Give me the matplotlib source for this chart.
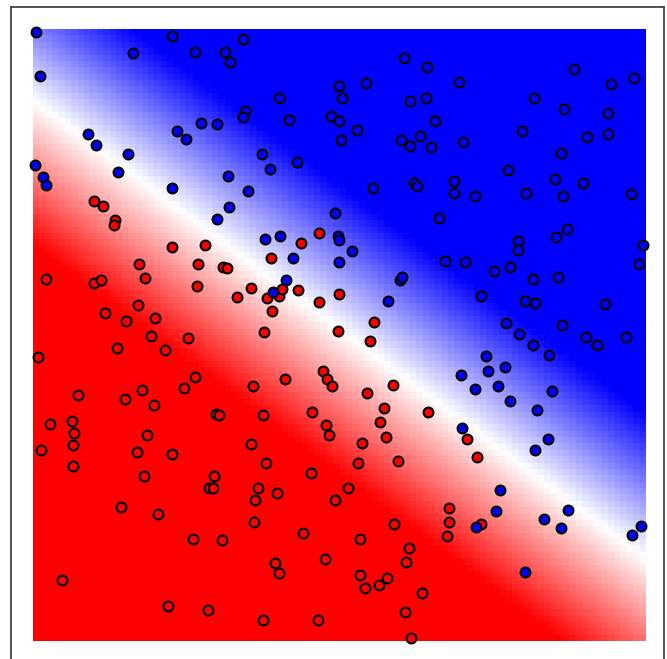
import numpy as np
import matplotlib
matplotlib.use("Agg")
import matplotlib.pyplot as plt

# ---- data (feature units) ----
blue_x = [3, 7, 55, 63, 95, 2, 10, 13, 85, 139, 144, 153, 168, 184, 195, 215, 196, 184, 232, 247,
          260, 253, 240, 229, 237, 264, 139, 100, 162, 192, 197, 210, 246, 212, 210, 256, 298,
          371, 394, 333, 306, 309, 426, 377, 393, 402, 306, 324, 308, 368, 377, 387, 398, 430,
          340, 381, 384, 421, 421, 442, 406, 541, 578, 601, 501, 531, 575, 489, 554, 575, 528,
          475, 522, 550, 493, 530, 598, 610, 606, 534, 523, 485, 485, 412, 432, 461, 477, 500,
          525, 572, 492, 502, 448, 473, 529, 302, 305, 306, 306, 319, 367, 369, 355, 486, 553,
          564, 593, 500, 516, 453, 472, 455, 428, 442, 465, 519, 477, 504, 515, 502, 429, 467,
          463, 443, 511, 535, 528, 599, 608, 492]
blue_y = [609, 565, 507, 496, 487, 476, 464, 456, 469, 453, 510, 502, 518, 517, 465, 450, 434, 422,
          402, 405, 383, 361, 349, 487, 472, 479, 605, 588, 589, 589, 579, 602, 543, 530, 524,
          521, 525, 583, 574, 558, 555, 543, 559, 540, 543, 520, 520, 511, 501, 501, 495, 505,
          494, 499, 453, 458, 455, 460, 448, 445, 423, 572, 557, 563, 543, 532, 528, 510, 504,
          507, 488, 471, 462, 458, 448, 445, 447, 396, 377, 412, 404, 400, 391, 380, 379, 370,
          374, 362, 364, 337, 340, 338, 345, 318, 316, 428, 405, 401, 379, 390, 361, 364, 340,
          307, 304, 296, 304, 296, 286, 285, 274, 270, 266, 252, 255, 250, 240, 231, 202, 191,
          213, 151, 130, 114, 122, 131, 113, 106, 115, 69]

red_x = [61, 70, 82, 81, 13, 61, 68, 106, 112, 105, 72, 93, 122, 139, 172, 165, 190, 194, 164, 204,
         218, 234, 246, 249, 238, 265, 268, 286, 286, 239, 231, 306, 341, 5, 84, 118, 155, 132,
         45, 92, 109, 121, 151, 162, 220, 252, 290, 294, 299, 17, 39, 41, 40, 8, 40, 114, 104,
         139, 111, 183, 186, 230, 279, 293, 296, 218, 233, 278, 181, 176, 180, 225, 222, 244,
         302, 88, 125, 221, 270, 160, 189, 292, 242, 246, 29, 135, 175, 230, 285, 305, 337,
         360, 334, 351, 395, 347, 353, 329, 325, 365, 434, 444, 315, 416, 416, 414, 448, 361,
         327, 376, 373, 327, 354, 346, 332, 389, 372, 378]
red_y = [440, 435, 421, 416, 362, 358, 361, 377, 363, 336, 328, 320, 323, 394, 396, 377, 374, 373,
         355, 344, 353, 343, 345, 352, 383, 351, 398, 408, 339, 330, 309, 347, 319, 284, 293,
         305, 303, 291, 246, 242, 251, 236, 253, 264, 255, 262, 270, 262, 255, 217, 220, 208,
         196, 191, 175, 206, 189, 187, 165, 227, 226, 226, 229, 216, 206, 197, 178, 168, 165,
         153, 153, 153, 141, 148, 141, 134, 127, 119, 108, 102, 101, 82, 78, 68, 61, 35, 31,
         21, 21, 310, 300, 256, 248, 233, 229, 219, 204, 198, 178, 180, 202, 184, 153, 133,
         119, 105, 117, 117, 102, 93, 79, 66, 63, 56, 53, 48, 29, 3]

# decision surface parameters (boundary line y = b0 + b1*x, ramp half-width)
x_range = (0, 613)
y_range = (0, 612)
b0, b1 = 541.0, -0.748
ramp = 145.0
n_cells = 96

# ---- figure ----
W, H = 667, 659
fig = plt.figure(figsize=(W / 100, H / 100), dpi=100)
ax = fig.add_axes([11 / W, 1 - 663 / H, 653 / W, 656 / H])

xe = np.linspace(*x_range, n_cells + 1)
ye = np.linspace(*y_range, n_cells + 1)
xc = 0.5 * (xe[:-1] + xe[1:])
yc = 0.5 * (ye[:-1] + ye[1:])
XX, YY = np.meshgrid(xc, yc)
d = YY - (b0 + b1 * XX)
p_red = np.clip(0.5 - d / (2 * ramp), 0, 1)
ax.pcolormesh(xe, ye, p_red, cmap="bwr", vmin=0, vmax=1, shading="flat")

ax.scatter(red_x, red_y, c="#FF0000", edgecolors="k", s=50, linewidths=1.5, zorder=3)
ax.scatter(blue_x, blue_y, c="#0000FF", edgecolors="k", s=50, linewidths=1.5, zorder=3)

ax.set_xlim(-22, 631)
ax.set_ylim(-22, 634)
ax.set_xticks([])
ax.set_yticks([])
for sp in ax.spines.values():
    sp.set_color("#444444")
    sp.set_linewidth(1.3)

fig.savefig("out.png", dpi=100)
